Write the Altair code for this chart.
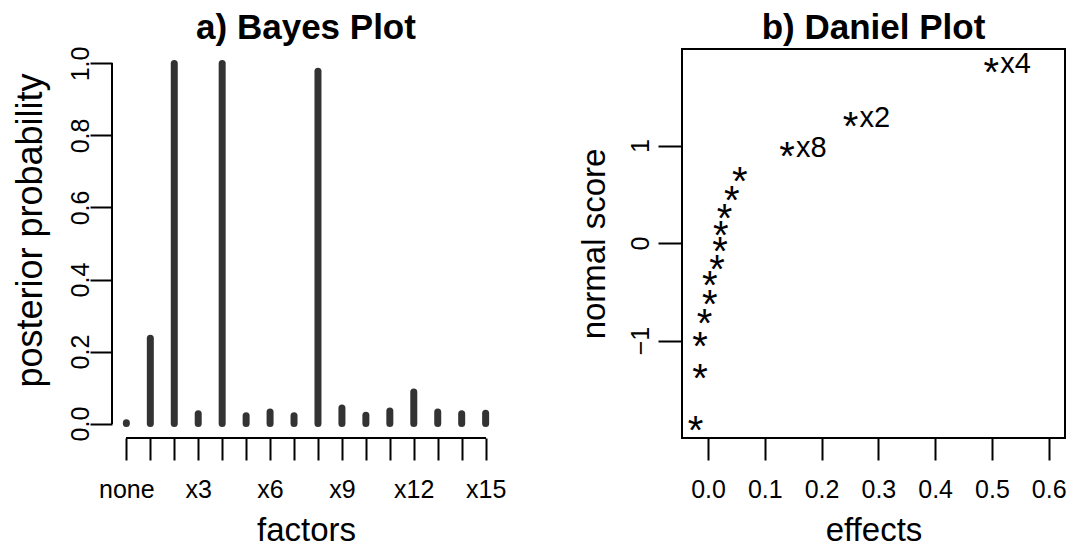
import altair as alt
import pandas as pd

FONT = "Liberation Sans"

# ---- a) Bayes plot data ----
factor_names = ["none", "x1", "x2", "x3", "x4", "x5", "x6", "x7", "x8",
                "x9", "x10", "x11", "x12", "x13", "x14", "x15"]
factor_index = [0, 1, 2, 3, 4, 5, 6, 7, 8, 9, 10, 11, 12, 13, 14, 15]
posterior = [0.002, 0.237, 1.0, 0.027, 1.0, 0.022, 0.032, 0.022, 0.978,
             0.043, 0.023, 0.035, 0.088, 0.032, 0.027, 0.029]
bayes_y_ticks = [0.0, 0.2, 0.4, 0.6, 0.8, 1.0]

# ---- b) Daniel plot data ----
effects = [-0.022, -0.014, -0.014, -0.006, 0.003, 0.003, 0.016, 0.021,
           0.0225, 0.029, 0.042, 0.056, 0.139, 0.251, 0.499]
normal_scores = [-1.85, -1.31, -0.98, -0.75, -0.55, -0.36, -0.19, -0.01,
                 0.15, 0.33, 0.51, 0.71, 0.96, 1.27, 1.83]
point_labels = ["", "", "", "", "", "", "", "", "", "", "", "", "x8", "x2", "x4"]
daniel_x_ticks = [0.0, 0.1, 0.2, 0.3, 0.4, 0.5, 0.6]
daniel_y_ticks = [-1, 0, 1]

W1, W2, H = 388, 383, 389

axis_common = dict(grid=False, tickColor="black", tickWidth=2,
                   labelColor="black", labelFont=FONT, labelFontSize=25,
                   titleFont=FONT, titleColor="black",
                   titleFontWeight="normal", labelFlush=False, domain=False)

def title(txt, off):
    return alt.TitleParams(text=txt, fontSize=35, fontWeight="bold", font=FONT,
                           anchor="middle", frame="group",
                           offset=off, color="black")

bayes_df = pd.DataFrame({"idx": factor_index, "factor": factor_names, "prob": posterior,
                         "ylo": bayes_y_ticks[0], "yhi": bayes_y_ticks[-1],
                         "xlo": factor_index[0], "xhi": factor_index[-1]})

bx_scale = alt.Scale(domain=[-0.6, 15.6], nice=False, zero=False)
by_scale = alt.Scale(domain=[-0.04, 1.04], nice=False, zero=False)
label_array = "[" + ",".join("'" + n + "'" for n in factor_names) + "]"

bx_axis = alt.Axis(values=factor_index,
                   labelExpr="datum.value % 3 == 0 ? " + label_array + "[datum.value] : ''",
                   title="factors", tickSize=22, labelPadding=17.5,
                   labelAngle=0, labelOverlap=False, titleFontSize=33,
                   titleY=102, titleBaseline="alphabetic", **axis_common)
by_axis = alt.Axis(values=bayes_y_ticks, format=".1f", title="posterior probability",
                   tickSize=22, labelAngle=270, labelAlign="center",
                   labelPadding=-3, titleFontSize=36,
                   titleAngle=270, titleX=-71, titleY=181,
                   titleBaseline="alphabetic", titleAlign="center", **axis_common)

base = alt.Chart(bayes_df)
bars = base.mark_rule(strokeWidth=7, strokeCap="round", color="#333333").encode(
    x=alt.X("idx:Q", scale=bx_scale, axis=bx_axis),
    y=alt.Y("prob:Q", scale=by_scale, axis=by_axis),
    y2=alt.datum(0),
)
yline = base.mark_rule(color="black", strokeWidth=2).encode(
    x=alt.value(0), y=alt.Y("ylo:Q", scale=by_scale, axis=by_axis), y2="yhi:Q")
xline = base.mark_rule(color="black", strokeWidth=2).encode(
    y=alt.value(H), x=alt.X("xlo:Q", scale=bx_scale, axis=bx_axis), x2="xhi:Q")

left = alt.layer(bars, yline, xline).properties(
    width=W1, height=H, title=title("a) Bayes Plot", 0),
    view=alt.ViewBackground(strokeOpacity=0))

daniel_df = pd.DataFrame({"effect": effects, "score": normal_scores, "label": point_labels})
dx_scale = alt.Scale(domain=[-0.0458, 0.6287], nice=False, zero=False)
dy_scale = alt.Scale(domain=[-2.0, 1.99], nice=False, zero=False)
dx_axis = alt.Axis(values=daniel_x_ticks, format=".1f", title="effects",
                   tickSize=22, labelPadding=17.5, titleFontSize=33,
                   labelAngle=0, titleY=102, titleBaseline="alphabetic", **axis_common)
dy_axis = alt.Axis(values=daniel_y_ticks, title="normal score",
                   tickSize=24, labelAngle=270, labelAlign="center",
                   labelPadding=5, titleFontSize=33,
                   titleAngle=270, titleX=-78, titleY=H / 2,
                   titleBaseline="alphabetic", titleAlign="center", **axis_common)

dbase = alt.Chart(daniel_df)
pts = dbase.mark_text(text="*", fontSize=40, font=FONT, baseline="alphabetic",
                      dy=21, color="black").encode(
    x=alt.X("effect:Q", scale=dx_scale, axis=dx_axis),
    y=alt.Y("score:Q", scale=dy_scale, axis=dy_axis),
)
lbls = dbase.mark_text(align="left", baseline="alphabetic", dx=9, dy=8,
                       fontSize=29, font=FONT, color="black").encode(
    x=alt.X("effect:Q", scale=dx_scale, axis=dx_axis),
    y=alt.Y("score:Q", scale=dy_scale, axis=dy_axis),
    text="label:N",
)
right = alt.layer(pts, lbls).properties(
    width=W2, height=H, title=title("b) Daniel Plot", 3),
    view=alt.ViewBackground(stroke="black", strokeWidth=2, strokeOpacity=1))

chart = alt.hconcat(left, right, spacing=71).properties(
    padding={"left": 3, "top": 2, "right": 0, "bottom": 0}
).configure(background="white")

chart.save("out.html", embed_options={"renderer": "svg", "actions": False})
